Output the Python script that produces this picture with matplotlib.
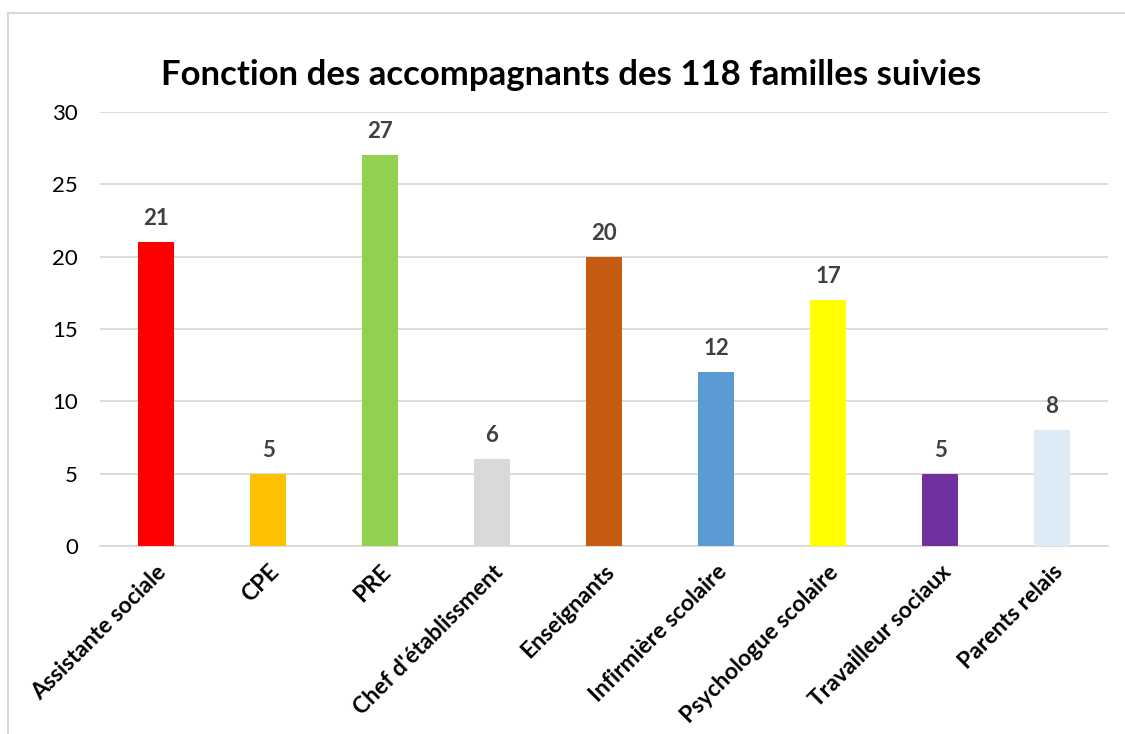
import matplotlib.pyplot as plt
from matplotlib.lines import Line2D

categories = ["Assistante sociale", "CPE", "PRE", "Chef d'établissment",
              "Enseignants", "Infirmière scolaire", "Psychologue scolaire",
              "Travailleur sociaux", "Parents relais"]
values = [21, 5, 27, 6, 20, 12, 17, 5, 8]
colors = ["#FF0000", "#FFC000", "#92D050", "#D9D9D9", "#C55A11",
          "#5B9BD5", "#FFFF00", "#7030A0", "#DDEBF7"]

plt.rcParams['font.family'] = ['Lato', 'DejaVu Sans']

fig = plt.figure(figsize=(11.25, 7.34), dpi=100)
ax = fig.add_axes([0.0889, 0.2561, 0.896, 0.5913])

x = range(len(categories))
ax.bar(x, values, width=0.33, color=colors, zorder=3)
for xi, v in zip(x, values):
    ax.text(xi, v + 0.9, str(v), ha="center", va="bottom",
            fontsize=16, fontweight="bold", color="#404040")

ax.set_xlim(-0.5, len(categories) - 0.5)
ax.set_ylim(0, 30)
ax.set_yticks(range(0, 31, 5))
ax.yaxis.grid(True, color="#D9D9D9", linewidth=1.3, zorder=0)
ax.tick_params(axis="y", length=0, labelsize=16, pad=16)
ax.tick_params(axis="x", length=0, pad=11)
ax.set_xticks(list(x))
ax.set_xticklabels(categories, rotation=45, ha="right",
                   rotation_mode="anchor", fontsize=16.5, fontweight="bold")
for side in ["top", "right", "left"]:
    ax.spines[side].set_visible(False)
ax.spines["bottom"].set_color("#D9D9D9")
ax.spines["bottom"].set_linewidth(1.3)

fig.text(0.508, 0.898, "Fonction des accompagnants des 118 familles suivies",
         ha="center", va="center", fontsize=25, fontweight="bold")

# chart area border (top and left edges)
fig.add_artist(Line2D([8 / 1125, 1.0], [1 - 13 / 734] * 2,
                      transform=fig.transFigure, color="#D9D9D9", lw=1.5))
fig.add_artist(Line2D([8 / 1125] * 2, [0, 1 - 13 / 734],
                      transform=fig.transFigure, color="#D9D9D9", lw=1.5))

fig.savefig("out.png", dpi=100)
